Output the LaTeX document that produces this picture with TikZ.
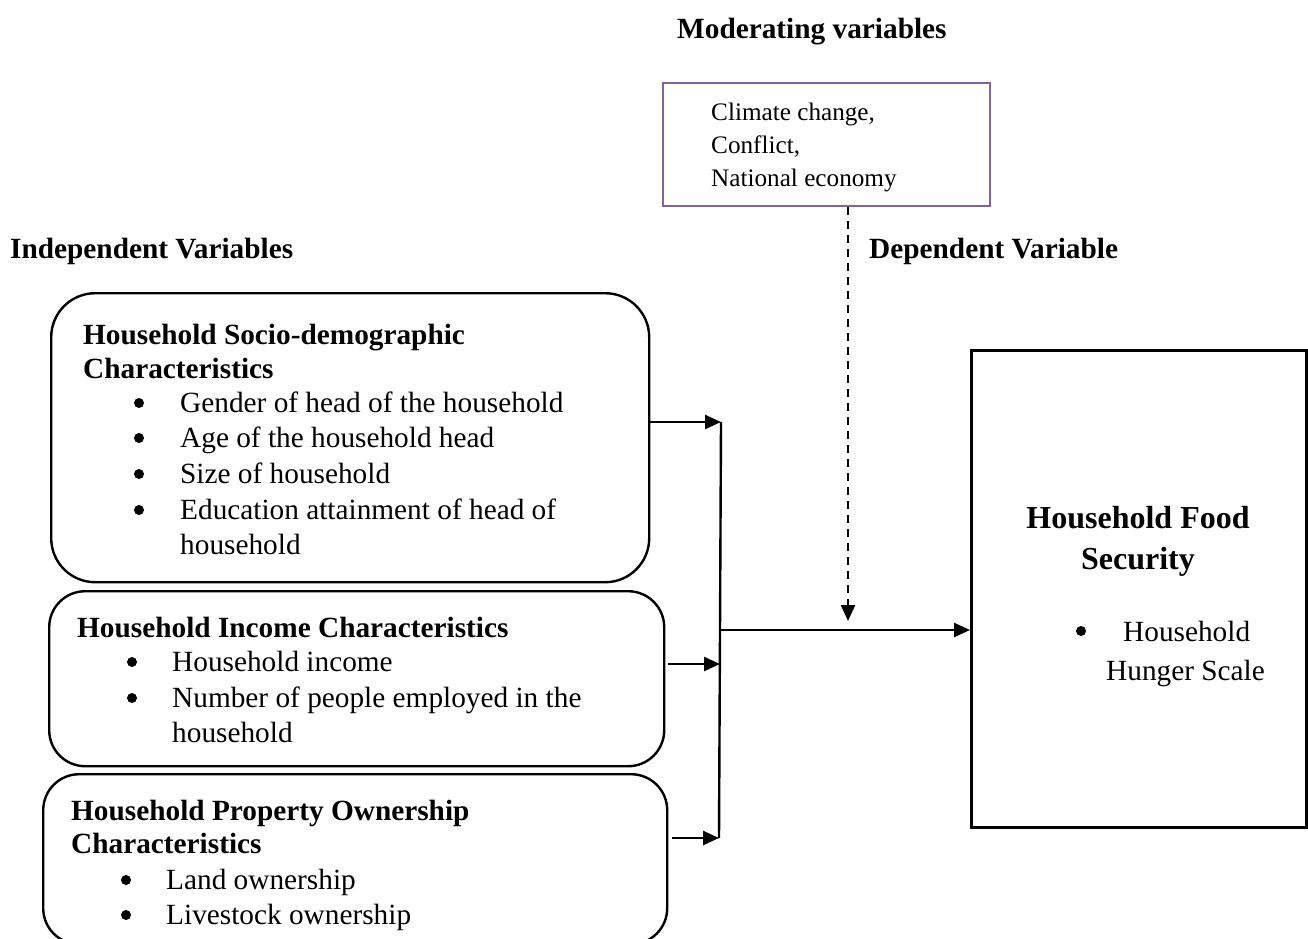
\documentclass[tikz,border=0pt]{standalone}
\usepackage{fontspec}
\setmainfont{Liberation Serif}
\usetikzlibrary{arrows.meta}
\definecolor{modpurple}{RGB}{128,100,162}
\begin{document}
\begin{tikzpicture}[x=1pt,y=-1pt,
  txt/.style={inner sep=0pt, anchor=base west, font=\fontsize{29.3}{36}\selectfont},
  hd/.style={inner sep=0pt, anchor=base west, font=\fontsize{29.3}{36}\selectfont\bfseries},
  small/.style={inner sep=0pt, anchor=base west, font=\fontsize{25.2}{33}\selectfont},
  big/.style={inner sep=0pt, anchor=base, font=\fontsize{32}{40}\selectfont\bfseries},
  bul/.style={circle, fill, inner sep=0pt, minimum size=10pt},
  bx/.style={draw, line width=2.4pt, inner sep=0pt, anchor=north west},
  arr/.style={line width=2.5pt, -{Triangle[length=16pt,width=14pt]}},
  dsh/.style={line width=2.4pt, dash pattern=on 8pt off 6pt, -{Triangle[length=16pt,width=14pt]}},
  ]
\path[use as bounding box] (0,0) rectangle (1308,938);
\clip (0,0) rectangle (1308,938);

% headings
\node[hd] (tmod) at (677,38) {Moderating variables};
\node[hd] (tind) at (10,258) {Independent Variables};
\node[hd] (tdep) at (869,258) {Dependent Variable};

% moderating box
\node[bx, draw=modpurple, minimum width=327pt, minimum height=123pt] (mod) at (662,82) {};
\node[small] (m1) at (711,120) {Climate change,};
\node[small] (m2) at (711,153) {Conflict,};
\node[small] (m3) at (711,186) {National economy};

% box 1
\node[bx, rounded corners=44pt, minimum width=598pt, minimum height=289pt] (b1) at (50,292) {};
\node[hd] (b1h1) at (83,344) {Household Socio-demographic};
\node[hd] (b1h2) at (83,378) {Characteristics};
\node[bul] (b1p1) at (139,403) {};
\node[txt] (b1t1) at (180,412) {Gender of head of the household};
\node[bul] (b1p2) at (139,438) {};
\node[txt] (b1t2) at (180,447) {Age of the household head};
\node[bul] (b1p3) at (139,474) {};
\node[txt] (b1t3) at (180,483) {Size of household};
\node[bul] (b1p4) at (139,510) {};
\node[txt] (b1t4) at (180,519) {Education attainment of head of};
\node[txt] (b1t5) at (180,554) {household};

% box 2
\node[bx, rounded corners=36pt, minimum width=615pt, minimum height=175pt] (b2) at (48,590) {};
\node[hd] (b2h) at (77,637) {Household Income Characteristics};
\node[bul] (b2p1) at (132,662) {};
\node[txt] (b2t1) at (172,671) {Household income};
\node[bul] (b2p2) at (132,698) {};
\node[txt] (b2t2) at (172,707) {Number of people employed in the};
\node[txt] (b2t3) at (172,742) {household};

% box 3
\node[bx, rounded corners=36pt, minimum width=624pt, minimum height=170pt] (b3) at (42,773) {};
\node[hd] (b3h1) at (71,820) {Household Property Ownership};
\node[hd] (b3h2) at (71,853) {Characteristics};
\node[bul] (b3p1) at (126,880) {};
\node[txt] (b3t1) at (166,889) {Land ownership};
\node[bul] (b3p2) at (126,915) {};
\node[txt] (b3t2) at (166,924) {Livestock ownership};

% right box
\node[bx, line width=3pt, minimum width=335pt, minimum height=477pt] (rb) at (970,349) {};
\node[big] (rbh1) at (1138,528) {Household Food};
\node[big] (rbh2) at (1138,569) {Security};
\node[bul] (rbp) at (1081,631) {};
\node[txt] (rbt1) at (1123,641) {Household};
\node[txt] (rbt2) at (1106,680) {Hunger Scale};

% connectors
\coordinate (jt) at (721,422);
\coordinate (j2) at (720,664);
\coordinate (jb) at (719,838);
\coordinate (jm) at (721,630);
\coordinate (dtip) at (848,621);
\draw[line width=2.4pt] (jt) -- (jb);
\draw[arr] (b1.east |- jt) -- (jt);
\draw[arr] ([xshift=3pt]b2.east |- j2) -- (j2);
\draw[arr] ([xshift=4pt]b3.east |- jb) -- (jb);
\draw[arr] (jm) -- (rb.west |- jm);
\draw[dsh] (mod.south -| dtip) -- (dtip);
\end{tikzpicture}
\end{document}
